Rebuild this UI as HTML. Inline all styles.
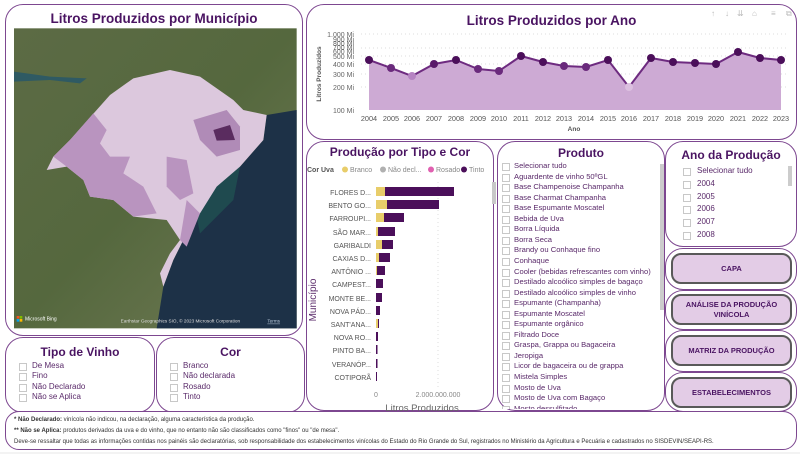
<!DOCTYPE html>
<html><head><meta charset="utf-8"><style>
*{margin:0;padding:0;box-sizing:border-box}
body{width:800px;height:454px;background:#f3f3f3;font-family:"Liberation Sans",sans-serif;position:relative;overflow:hidden;color:#5a2a6a}
.card{position:absolute;background:#fff;border:1.5px solid #7d4790;border-radius:18px}
.t{position:absolute;left:0;right:0;text-align:center;font-weight:bold;color:#4a1462}
.it{position:absolute;font-size:8px;white-space:nowrap;color:#5a2a6a}
.cb{position:absolute;width:8px;height:8px;border:1px solid #c8c8c8;background:#fff}
.btn{position:absolute;background:#e3cce6;border:2px solid #595959;border-radius:10px;font-size:7.5px;font-weight:bold;color:#4a1462;display:flex;align-items:center;justify-content:center;text-align:center;line-height:10px}
</style></head><body>
<div style="position:absolute;left:0;top:0;width:800px;height:452px;background:#fff"></div>

<div class="card" style="left:5px;top:4px;width:298px;height:332px">
<div class="t" style="top:6px;font-size:13.5px">Litros Produzidos por Município</div>
</div>
<svg style="position:absolute;left:0;top:0" width="305" height="340" viewBox="0 0 915 1020">
<defs><linearGradient id="g" x1="0" y1="0" x2="1" y2="1"><stop offset="0" stop-color="#5c6b45"/><stop offset="0.5" stop-color="#55683e"/><stop offset="1" stop-color="#707a55"/></linearGradient></defs>
<rect x="42" y="85" width="848" height="900" fill="url(#g)"/>
<path d="M42 215 L150 230 L260 235 L240 250 L150 240 L42 245Z" fill="#2f5a63"/>
<path d="M890 330 L800 345 L790 420 L720 500 L650 560 L600 640 L560 700 L520 780 L490 860 L470 985 L890 985Z" fill="#1d3147"/>
<path d="M650 520 L720 500 L700 600 L640 660 L600 700 L590 650Z" fill="#1f4a4f"/>
<path d="M140 510 L160 470 L210 420 L290 330 L330 285 L400 235 L510 210 L600 230 L700 300 L730 330 L800 345 L790 420 L720 500 L650 560 L600 640 L560 700 L520 780 L490 860 L480 820 L510 760 L540 720 L500 660 L400 650 L340 600 L270 590 L250 540 L200 500Z" fill="#dcc8dd"/>
<path d="M160 470 L210 420 L280 340 L320 390 L300 430 L330 470 L390 470 L370 520 L430 560 L470 640 L400 650 L340 600 L270 590 L250 540 L200 500Z" fill="#b994bf"/>
<path d="M500 470 L560 480 L580 580 L540 600 L500 560Z" fill="#b994bf"/>
<path d="M580 360 L680 330 L720 380 L720 450 L650 470 L600 420Z" fill="#b08bb7"/>
<path d="M640 390 L690 375 L705 420 L650 422Z" fill="#5a2c5f"/>
<path d="M560 600 L600 640 L560 740 L540 720Z" fill="#b994bf"/>
<text x="75" y="962" font-size="15" fill="#fff" font-family="Liberation Sans">Microsoft Bing</text>
<rect x="50" y="948" width="8" height="8" fill="#f25022"/><rect x="59" y="948" width="8" height="8" fill="#7fba00"/><rect x="50" y="957" width="8" height="8" fill="#00a4ef"/><rect x="59" y="957" width="8" height="8" fill="#ffb900"/>
<text x="362" y="968" font-size="14" fill="#ddd" font-family="Liberation Sans">Earthstar Geographics SIO, © 2023 Microsoft Corporation</text>
<text x="802" y="968" font-size="14" fill="#bcd" text-decoration="underline" font-family="Liberation Sans">Terms</text>
</svg>

<div class="card" style="left:306px;top:4px;width:491px;height:136px">
<div class="t" style="top:8px;font-size:13.5px">Litros Produzidos por Ano</div>
</div>
<svg style="position:absolute;left:306px;top:4px" width="491" height="136" font-family="Liberation Sans">
<g fill="#bbb" font-size="8"><text x="405" y="12">↑</text><text x="419" y="12">↓</text><text x="431" y="12">⇊</text><text x="446" y="12">⌂</text><text x="465" y="12">≡</text><text x="480" y="12">⧉</text></g>
<g stroke="#ddd" stroke-dasharray="1,3"><line x1="55" y1="30" x2="480" y2="30"/><line x1="55" y1="44" x2="480" y2="44"/><line x1="55" y1="52" x2="480" y2="52"/><line x1="55" y1="60" x2="480" y2="60"/><line x1="55" y1="70" x2="480" y2="70"/><line x1="55" y1="83" x2="480" y2="83"/></g>
<g fill="#666" font-size="7" text-anchor="end"><text x="48" y="33">1.000 Mi</text><text x="48" y="38">900 Mi</text><text x="48" y="42">800 Mi</text><text x="48" y="46">700 Mi</text><text x="48" y="50">600 Mi</text><text x="48" y="55">500 Mi</text><text x="48" y="63">400 Mi</text><text x="48" y="73">300 Mi</text><text x="48" y="86">200 Mi</text><text x="48" y="109">100 Mi</text></g>
<text transform="translate(15,70) rotate(-90)" font-size="6.5" font-weight="bold" fill="#555" text-anchor="middle">Litros Produzidos</text>
<path d="M63 56 L85 64 L106 72 L128 60 L150 56 L172 65 L193 67 L215 52 L237 58 L258 62 L280 63 L302 56 L323 83 L345 54 L367 58 L389 59 L410 60 L432 48 L454 54 L475 56 L475 106 L63 106Z" fill="#cdaad4"/>
<polyline points="63,56 85,64 106,72 128,60 150,56 172,65 193,67 215,52 237,58 258,62 280,63 302,56 323,83 345,54 367,58 389,59 410,60 432,48 454,54 475,56" fill="none" stroke="#6e2b80" stroke-width="2"/>
<g fill="#4b0f5a"><circle cx="63" cy="56" r="4"/><circle cx="85" cy="64" r="4" fill="#6a2a7c"/><circle cx="106" cy="72" r="4" fill="#b583c2"/><circle cx="128" cy="60" r="4" fill="#5a1a6a"/><circle cx="150" cy="56" r="4"/><circle cx="172" cy="65" r="4" fill="#6a2a7c"/><circle cx="193" cy="67" r="4" fill="#6a2a7c"/><circle cx="215" cy="52" r="4"/><circle cx="237" cy="58" r="4"/><circle cx="258" cy="62" r="4" fill="#6a2a7c"/><circle cx="280" cy="63" r="4" fill="#6a2a7c"/><circle cx="302" cy="56" r="4"/><circle cx="323" cy="83" r="4" fill="#dcc0e0"/><circle cx="345" cy="54" r="4"/><circle cx="367" cy="58" r="4"/><circle cx="389" cy="59" r="4"/><circle cx="410" cy="60" r="4"/><circle cx="432" cy="48" r="4"/><circle cx="454" cy="54" r="4"/><circle cx="475" cy="56" r="4"/></g>
<g fill="#555" font-size="7.3" text-anchor="middle"><text x="63" y="117">2004</text><text x="85" y="117">2005</text><text x="106" y="117">2006</text><text x="128" y="117">2007</text><text x="150" y="117">2008</text><text x="172" y="117">2009</text><text x="193" y="117">2010</text><text x="215" y="117">2011</text><text x="237" y="117">2012</text><text x="258" y="117">2013</text><text x="280" y="117">2014</text><text x="302" y="117">2015</text><text x="323" y="117">2016</text><text x="345" y="117">2017</text><text x="367" y="117">2018</text><text x="389" y="117">2019</text><text x="410" y="117">2020</text><text x="432" y="117">2021</text><text x="454" y="117">2022</text><text x="475" y="117">2023</text></g>
<text x="268" y="127" font-size="6.5" font-weight="bold" fill="#555" text-anchor="middle">Ano</text>
</svg>

<div class="card" style="left:306px;top:141px;width:188px;height:270px">
<div class="t" style="top:3px;font-size:12px">Produção por Tipo e Cor</div>
</div>
<svg style="position:absolute;left:300px;top:140px" width="200" height="275" font-family="Liberation Sans">
<text x="7" y="32" font-size="7" font-weight="bold" fill="#555">Cor Uva</text>
<circle cx="45" cy="29.5" r="3" fill="#e8cd6a"/><text x="50" y="32" font-size="7" fill="#888">Branco</text>
<circle cx="83" cy="29.5" r="3" fill="#b0b0b0"/><text x="88" y="32" font-size="7" fill="#888">Não decl...</text>
<circle cx="131" cy="29.5" r="3" fill="#e060b0"/><text x="136" y="32" font-size="7" fill="#888">Rosado</text>
<circle cx="164" cy="29.5" r="3" fill="#4b0f5a"/><text x="169" y="32" font-size="7" fill="#888">Tinto</text>
<line x1="138" y1="42" x2="138" y2="248" stroke="#ddd" stroke-dasharray="1,3"/>
<rect x="192" y="42" width="4" height="22" fill="#c8c8c8"/>
<g font-size="7" fill="#555" text-anchor="end">
<text x="71" y="55">FLORES D...</text><text x="71" y="68">BENTO GO...</text><text x="71" y="81">FARROUPI...</text><text x="71" y="95">SÃO MAR...</text><text x="71" y="108">GARIBALDI</text><text x="71" y="121">CAXIAS D...</text><text x="71" y="134">ANTÔNIO ...</text><text x="71" y="147">CAMPEST...</text><text x="71" y="161">MONTE BE...</text><text x="71" y="174">NOVA PÁD...</text><text x="71" y="187">SANT'ANA...</text><text x="71" y="200">NOVA RO...</text><text x="71" y="213">PINTO BA...</text><text x="71" y="227">VERANÓP...</text><text x="71" y="240">COTIPORÃ</text></g>
<g fill="#4b0f5a">
<rect x="76" y="47" width="78" height="9"/><rect x="76" y="60" width="63" height="9"/><rect x="76" y="73" width="28" height="9"/><rect x="76" y="87" width="19" height="9"/><rect x="76" y="100" width="17" height="9"/><rect x="76" y="113" width="14" height="9"/><rect x="76" y="126" width="9" height="9"/><rect x="76" y="139" width="7" height="9"/><rect x="76" y="153" width="6" height="9"/><rect x="76" y="166" width="4" height="9"/><rect x="76" y="179" width="3" height="9"/><rect x="76" y="192" width="2" height="9"/><rect x="76" y="205" width="1.5" height="9"/><rect x="76" y="219" width="1.5" height="9"/><rect x="76" y="232" width="1" height="9"/></g>
<g fill="#e8cd6a"><rect x="76" y="47" width="9" height="9"/><rect x="76" y="60" width="11" height="9"/><rect x="76" y="73" width="8" height="9"/><rect x="76" y="87" width="2" height="9"/><rect x="76" y="100" width="6" height="9"/><rect x="76" y="113" width="3" height="9"/><rect x="76" y="126" width="1" height="9"/><rect x="76" y="179" width="2" height="9"/></g>
<text x="76" y="257" font-size="7" fill="#888" text-anchor="middle">0</text>
<text x="138" y="257" font-size="7" fill="#888" text-anchor="middle">2.000.000.000</text>
<text x="122" y="271" font-size="9.5" fill="#666" text-anchor="middle">Litros Produzidos</text>
<text transform="translate(16,160) rotate(-90)" font-size="10" fill="#5a2a6a" text-anchor="middle">Município</text>
</svg>

<div class="card" style="left:497px;top:141px;width:168px;height:270px;overflow:hidden">
<div class="t" style="top:4px;font-size:12px">Produto</div>
<div style="position:absolute;left:162px;top:22px;width:4px;height:146px;background:#ccc"></div>
</div>
<div style="position:absolute;left:497px;top:141px;width:166px;height:268px;overflow:hidden">
<div style="position:absolute;left:0;top:22px;width:166px"><div id="pl"></div></div></div>

<div class="card" style="left:665px;top:141px;width:132px;height:106px">
<div class="t" style="top:6px;font-size:12px">Ano da Produção</div>
<div style="position:absolute;left:122px;top:24px;width:4px;height:20px;background:#ccc"></div>
</div>
<div style="position:absolute;left:665px;top:160px;width:125px;height:80px;overflow:hidden" id="al"></div>

<div class="card" style="left:665px;top:248px;width:132px;height:42px"></div>
<div class="card" style="left:665px;top:290px;width:132px;height:40px"></div>
<div class="card" style="left:665px;top:330px;width:132px;height:42px"></div>
<div class="card" style="left:665px;top:372px;width:132px;height:40px"></div>
<div class="btn" style="left:671px;top:253px;width:121px;height:31px">CAPA</div>
<div class="btn" style="left:671px;top:294px;width:121px;height:31px">ANÁLISE DA PRODUÇÃO<br>VINÍCOLA</div>
<div class="btn" style="left:671px;top:335px;width:121px;height:31px">MATRIZ DA PRODUÇÃO</div>
<div class="btn" style="left:671px;top:377px;width:121px;height:31px">ESTABELECIMENTOS</div>

<div class="card" style="left:5px;top:337px;width:150px;height:76px">
<div class="t" style="top:7px;font-size:12px">Tipo de Vinho</div></div>
<div class="card" style="left:156px;top:337px;width:149px;height:76px">
<div class="t" style="top:7px;font-size:12px">Cor</div></div>
<div id="tc"></div>

<div class="card" style="left:5px;top:411px;width:792px;height:39px;border-radius:14px"></div>
<div style="position:absolute;left:14px;top:415px;font-size:6px;color:#333;line-height:11px;white-space:nowrap">
<div><b>* Não Declarado:</b> vinícola não indicou, na declaração, alguma característica da produção.</div>
<div><b>** Não se Aplica:</b> produtos derivados da uva e do vinho, que no entanto não são classificados como "finos" ou "de mesa".</div>
<div>Deve-se ressaltar que todas as informações contidas nos painéis são declaratórias, sob responsabilidade dos estabelecimentos vinícolas do Estado do Rio Grande do Sul, registrados no Ministério da Agricultura e Pecuária e cadastrados no SISDEVIN/SEAPI-RS.</div>
</div>

<script>
function list(el,items,x0,y0,dy,cbx,fs){var h='';items.forEach(function(s,i){var y=y0+i*dy;h+='<div class="cb" style="left:'+cbx+'px;top:'+(y-7)+'px"></div><div class="it" style="font-size:'+fs+'px;left:'+x0+'px;top:'+(y-9)+'px">'+s+'</div>';});el.insertAdjacentHTML('beforeend',h);}
list(document.getElementById('pl'),["Selecionar tudo","Aguardente de vinho 50ºGL","Base Champenoise Champanha","Base Charmat Champanha","Base Espumante Moscatel","Bebida de Uva","Borra Líquida","Borra Seca","Brandy ou Conhaque fino","Conhaque","Cooler (bebidas refrescantes com vinho)","Destilado alcoólico simples de bagaço","Destilado alcoólico simples de vinho","Espumante (Champanha)","Espumante Moscatel","Espumante orgânico","Filtrado Doce","Graspa, Grappa ou Bagaceira","Jeropiga","Licor de bagaceira ou de grappa","Mistela Simples","Mosto de Uva","Mosto de Uva com Bagaço","Mosto dessulfitado"],17,7,10.55,5,7.6);
list(document.getElementById('al'),["Selecionar tudo","2004","2005","2006","2007","2008"],32,15,12.8,18,8);
var tc=document.getElementById('tc');
list(tc,["De Mesa","Fino","Não Declarado","Não se Aplica"],32,370,10.3,19,8);
list(tc,["Branco","Não declarada","Rosado","Tinto"],183,370,10.3,170,8);
</script>
</body></html>
